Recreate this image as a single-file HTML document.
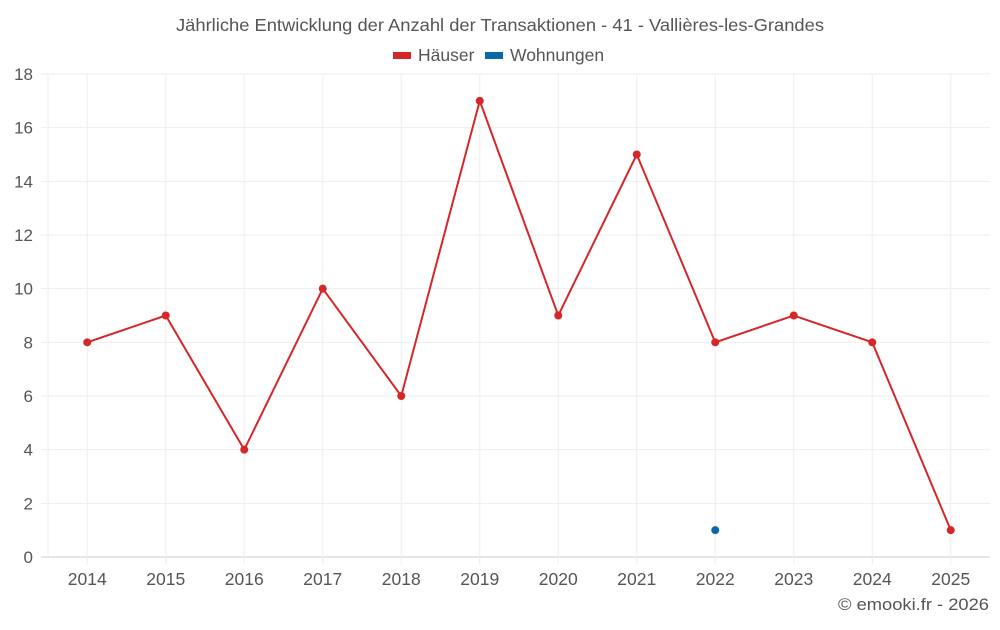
<!DOCTYPE html>
<html><head><meta charset="utf-8"><style>
body{margin:0;background:#fff;font-family:"Liberation Sans",sans-serif}
svg text{font-family:"Liberation Sans",sans-serif;fill:#555}
</style></head><body>
<svg id="c" width="1000" height="625">
<text x="500" y="31" text-anchor="middle" font-size="17.5" textLength="648" lengthAdjust="spacingAndGlyphs">Jährliche Entwicklung der Anzahl der Transaktionen - 41 - Vallières-les-Grandes</text>
<g><rect x="393" y="52" width="18" height="7" fill="#d62728"/><text x="418" y="61" font-size="17.5">Häuser</text></g>
<g><rect x="485" y="52" width="18" height="7" fill="#0868a8"/><text x="510" y="61" font-size="17.5">Wohnungen</text></g>
<g id="grid"></g><g id="axes"></g><g id="series"></g>
<text x="989" y="610" text-anchor="end" font-size="17" textLength="151" lengthAdjust="spacingAndGlyphs">© emooki.fr - 2026</text>
</svg>
<script>
const categories=["2014","2015","2016","2017","2018","2019","2020","2021","2022","2023","2024","2025"];
const haeuser=[8,9,4,10,6,17,9,15,8,9,8,1];
const wohnungen=[null,null,null,null,null,null,null,null,1,null,null,null];
const yTicks=[0,2,4,6,8,10,12,14,16,18];
const L=48,R=990,T=74,B=557,ymax=18;
const bw=(R-L)/categories.length;
const x=i=>L+bw*(i+0.5);
const y=v=>B-(B-T)*v/ymax;
const NS="http://www.w3.org/2000/svg";
function mk(t,a,p){const e=document.createElementNS(NS,t);for(const k in a)e.setAttribute(k,a[k]);p.appendChild(e);return e;}
const g=document.getElementById('grid'),ax=document.getElementById('axes'),s=document.getElementById('series');
yTicks.forEach(v=>{
 const l=mk('line',{x1:41,x2:R,y1:y(v),y2:y(v),stroke:v===0?'#ccc':'#eeeeee'},g);
 
 
 const t=mk('text',{x:33,y:y(v)+6,'text-anchor':'end','font-size':17},ax);t.textContent=v;
 
 
});
const vl=mk('line',{x1:L,x2:L,y1:T,y2:B,stroke:'#eeeeee'},g);


categories.forEach((c,i)=>{
 const l=mk('line',{x1:x(i),x2:x(i),y1:T,y2:B+8,stroke:'#eeeeee'},g);
 
 
 const t=mk('text',{x:x(i),y:585,'text-anchor':'middle','font-size':17.5},ax);t.textContent=c;
 
 
});
const pts=haeuser.map((v,i)=>x(i)+','+y(v)).join(' ');
const pl=mk('polyline',{points:pts,fill:'none',stroke:'#d62728','stroke-width':2},s);


haeuser.forEach((v,i)=>{const c=mk('circle',{cx:x(i),cy:y(v),r:4,fill:'#d62728'},s);
 
 });
wohnungen.forEach((v,i)=>{if(v==null)return;const c=mk('circle',{cx:x(i),cy:y(v),r:4,fill:'#0868a8'},s);
 
 });
</script>
</body></html>
